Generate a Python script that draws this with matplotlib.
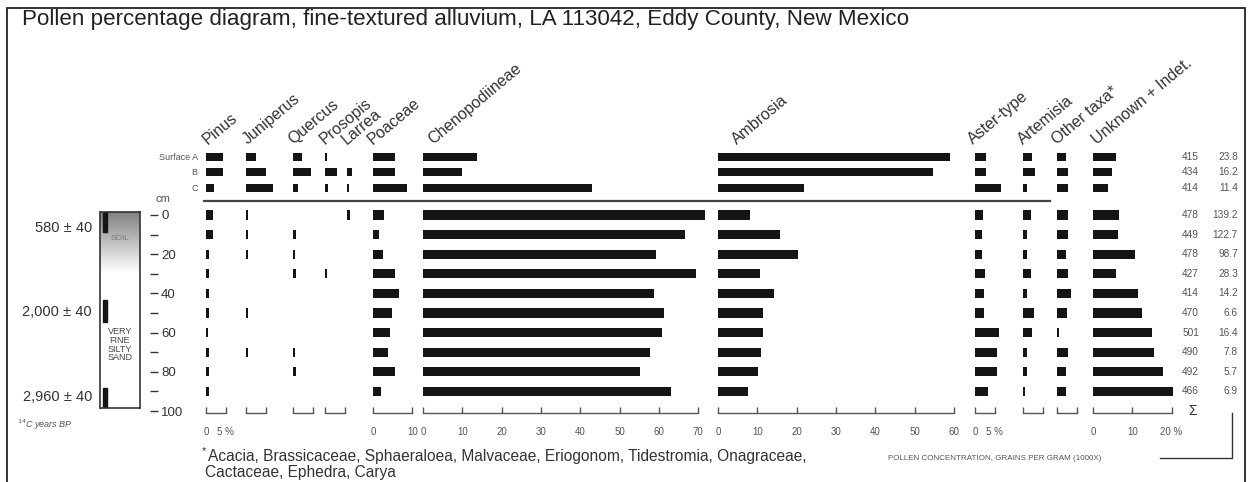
import matplotlib
matplotlib.use("Agg")
import matplotlib.pyplot as plt
import matplotlib.transforms as mtransforms
from matplotlib.lines import Line2D
from matplotlib.patches import Rectangle
import numpy as np

plt.rcParams['font.family'] = ['Liberation Sans', 'DejaVu Sans']

taxa = ["Pinus", "Juniperus", "Quercus", "Prosopis", "Larrea", "Poaceae",
        "Chenopodiineae", "Ambrosia", "Aster-type", "Artemisia",
        "Other taxa*", "Unknown + Indet."]

# surface samples, percent per taxon (same order as taxa)
surface_labels = ["Surface A", "B", "C"]
surface_pct = [
    [4.3, 2.5, 2.2, 0.5, 0.0, 5.6, 13.7, 59.0, 2.8, 2.3, 2.3, 5.8],
    [4.3, 5.0, 4.5, 3.0, 1.2, 5.6, 9.9, 54.7, 2.8, 3.0, 2.8, 4.8],
    [2.0, 6.9, 1.2, 0.8, 0.5, 8.6, 43.0, 21.8, 6.5, 1.0, 2.8, 3.8],
]
surface_sum = [415, 434, 414]
surface_conc = ["23.8", "16.2", "11.4"]

# profile samples by depth (cm)
depths = [0, 10, 20, 30, 40, 50, 60, 70, 80, 90]
depth_pct = [
    [1.8, 0.5, 0.0, 0.0, 0.7, 2.8, 71.7, 8.1, 2.0, 2.0, 2.8, 6.6],
    [1.8, 0.5, 0.7, 0.0, 0.0, 1.5, 66.6, 15.7, 1.8, 1.0, 2.8, 6.3],
    [0.7, 0.5, 0.5, 0.0, 0.0, 2.5, 59.2, 20.3, 1.8, 1.0, 2.3, 10.6],
    [0.7, 0.0, 0.7, 0.5, 0.0, 5.6, 69.4, 10.6, 2.5, 2.0, 2.8, 5.8],
    [0.7, 0.0, 0.0, 0.0, 0.0, 6.6, 58.7, 14.2, 2.3, 1.0, 3.5, 11.4],
    [0.7, 0.5, 0.0, 0.0, 0.0, 4.8, 61.3, 11.4, 2.3, 2.8, 2.5, 12.4],
    [0.5, 0.0, 0.0, 0.0, 0.0, 4.3, 60.8, 11.4, 6.1, 2.3, 0.5, 14.9],
    [0.8, 0.5, 0.5, 0.0, 0.0, 3.8, 57.7, 10.9, 5.6, 1.0, 2.8, 15.4],
    [0.7, 0.0, 0.7, 0.0, 0.0, 5.6, 55.2, 10.1, 5.6, 1.0, 2.3, 17.7],
    [0.7, 0.0, 0.0, 0.0, 0.0, 2.0, 63.0, 7.6, 3.3, 0.5, 2.3, 20.3],
]
depth_sum = [478, 449, 478, 427, 414, 470, 501, 490, 492, 466]
depth_conc = ["139.2", "122.7", "98.7", "28.3", "14.2", "6.6", "16.4",
              "7.8", "5.7", "6.9"]

# percent scale bars under each column
scale_max = [5, 5, 5, 5, None, 10, 70, 60, 5, 5, 5, 20]
scale_labels = {
    "Pinus": ["0", "5 %"],
    "Poaceae": ["0", "10"],
    "Chenopodiineae": ["0", "10", "20", "30", "40", "50", "60", "70"],
    "Ambrosia": ["0", "10", "20", "30", "40", "50", "60"],
    "Aster-type": ["0", "5 %"],
    "Unknown + Indet.": ["0", "10", "20 %"],
}

# radiocarbon dates on the section
dates = ["580 ± 40", "2,000 ± 40", "2,960 ± 40"]
date_depth = [7, 50, 94]
date_top = [-1.5, 44, 89]
date_bottom = [9, 55, 99.5]

W, H = 1256, 482
fig = plt.figure(figsize=(W / 100, H / 100), dpi=100)


def fx(px):
    return px / W


def fy(py):
    return 1 - py / H


PX_PER_PCT = 3.93
Y_TOP, Y_BOT = 150, 413
PX_PER_CM = 1.96
Y_ZERO = 215


def depth_of(py):
    return (py - Y_ZERO) / PX_PER_CM


ylim = (depth_of(Y_BOT), depth_of(Y_TOP))
surf_pos = [depth_of(157), depth_of(172), depth_of(188)]

col_x = [206, 246, 293, 325, 347, 373, 423, 718, 975, 1023, 1057, 1093]
label_dx = [2, 2, 0, 0, 0, 0, 10, 19, -2, 0, 0, 4]
ink = "#151515"
grey = "#555555"

axes = []
for i, name in enumerate(taxa):
    vals_s = [row[i] for row in surface_pct]
    vals_d = [row[i] for row in depth_pct]
    span = max(scale_max[i] or 5, max(vals_s + vals_d)) + 1
    ax = fig.add_axes([fx(col_x[i]), fy(Y_BOT), span * PX_PER_PCT / W,
                       (Y_BOT - Y_TOP) / H])
    ax.set_xlim(0, span)
    ax.set_ylim(*ylim)
    ax.patch.set_alpha(0)
    for s in ["left", "right", "top"]:
        ax.spines[s].set_visible(False)
    ax.barh(surf_pos, vals_s, height=3.6, color=ink)
    ax.barh(depths, vals_d, height=4.7, color=ink)

    if scale_max[i] is None:
        ax.spines["bottom"].set_visible(False)
        ax.set_xticks([])
    else:
        step = 10 if scale_max[i] >= 20 else scale_max[i]
        ticks = list(range(0, scale_max[i] + 1, step))
        ax.spines["bottom"].set_bounds(0, scale_max[i])
        ax.spines["bottom"].set_color(grey)
        ax.spines["bottom"].set_linewidth(1.0)
        ax.set_xticks(ticks)
        ax.set_xticklabels(scale_labels.get(name, [""] * len(ticks)))
        ax.tick_params(axis="x", direction="in", length=4, width=1.0,
                       color=grey, labelsize=7, labelcolor=grey, pad=10)

    if i == 0:
        ax.set_yticks(surf_pos)
        ax.set_yticklabels(surface_labels)
        ax.tick_params(axis="y", length=0, labelsize=6.5, labelcolor=grey,
                       pad=6)
    else:
        ax.set_yticks([])

    fig.text(fx(col_x[i] + label_dx[i]), fy(145), name, rotation=40,
             rotation_mode="anchor", ha="left", va="baseline",
             fontsize=11.5, color="#333333")
    axes.append(ax)

# line between surface samples and the profile
fig.add_artist(Line2D([fx(204), fx(1050)], [fy(201), fy(201)],
                      color="#444444", lw=1.6))

# sample totals and concentrations
tr = mtransforms.blended_transform_factory(fig.transFigure, axes[0].transData)
for pos, n, c in zip(surf_pos + depths, surface_sum + depth_sum,
                     surface_conc + depth_conc):
    axes[0].text(fx(1199), pos, str(n), transform=tr, ha="right",
                 va="center", fontsize=7.3, color=grey)
    axes[0].text(fx(1238), pos, c, transform=tr, ha="right",
                 va="center", fontsize=7.3, color=grey)

fig.text(fx(1188), fy(411), "Σ", fontsize=10, color="#333333", va="center")
fig.text(fx(888), fy(458), "POLLEN CONCENTRATION, GRAINS PER GRAM (1000X)",
         fontsize=5.8, color=grey, va="center")
fig.add_artist(Line2D([fx(1160), fx(1232), fx(1232)],
                      [fy(458), fy(458), fy(413)], color="#333333", lw=1.0))

# depth scale
ax_d = fig.add_axes([fx(140), fy(Y_BOT), fx(10), (Y_BOT - Y_TOP) / H])
ax_d.set_ylim(*ylim)
ax_d.patch.set_alpha(0)
for s in ax_d.spines.values():
    s.set_visible(False)
ax_d.set_xticks([])
ax_d.yaxis.tick_right()
ax_d.set_yticks([0, 20, 40, 60, 80, 100])
ax_d.set_yticks([10, 30, 50, 70, 90], minor=True)
ax_d.tick_params(axis="y", which="both", direction="out", length=6,
                 width=1.0, color="#333333", labelsize=9.5,
                 labelcolor="#333333", pad=2)
fig.text(fx(156), fy(199), "cm", fontsize=8, color=grey, va="center")

# stratigraphic column
ax_s = fig.add_axes([fx(100), fy(408), fx(40), (408 - 212) / H])
ax_s.set_xlim(0, 1)
ax_s.set_ylim(99.5, -1.5)
ax_s.set_xticks([])
ax_s.set_yticks([])
for s in ax_s.spines.values():
    s.set_color("#333333")
    s.set_linewidth(1.2)
grad = np.linspace(0.5, 1.0, 100).reshape(-1, 1)
ax_s.imshow(grad, cmap="gray", vmin=0, vmax=1, aspect="auto",
            extent=[0, 1, 30, -1.5], zorder=0)
for top, bot in zip(date_top, date_bottom):
    ax_s.add_patch(Rectangle((0.08, top), 0.1, bot - top, color=ink,
                             zorder=2))
trs = mtransforms.blended_transform_factory(ax_s.transAxes, ax_s.transData)
for lab, d in zip(dates, date_depth):
    ax_s.text(-0.2, d, lab, transform=trs, ha="right",
              va="center", fontsize=10.5, color="#333333")
ax_s.text(0.5, 12, "SOIL", ha="center", va="center", fontsize=6,
          color="#777777")
ax_s.text(0.5, 67, "VERY\nFINE\nSILTY\nSAND", ha="center", va="center",
          fontsize=6.5, color="#444444", linespacing=0.95)
fig.text(fx(17), fy(425), r"$^{14}$C years BP", fontsize=6.5,
         style="italic", color=grey, va="center")

# title, footnote and frame
fig.text(fx(22), fy(20), "Pollen percentage diagram, fine-textured alluvium, "
         "LA 113042, Eddy County, New Mexico", fontsize=16.1, color="#222222",
         va="center")
fig.text(fx(202), fy(451), "*", fontsize=8, color="#333333", va="center")
fig.text(fx(208), fy(456), "Acacia, Brassicaceae, Sphaeraloea, Malvaceae, "
         "Eriogonom, Tidestromia, Onagraceae,", fontsize=11.2,
         color="#333333", va="center")
fig.text(fx(205), fy(472), "Cactaceae, Ephedra, Carya", fontsize=11.2,
         color="#333333", va="center")
fig.add_artist(Rectangle((fx(7), fy(495)), fx(1245 - 7), (495 - 8) / H,
                         transform=fig.transFigure, fill=False,
                         edgecolor="#222222", lw=1.3))

fig.savefig("out.png", dpi=100)
